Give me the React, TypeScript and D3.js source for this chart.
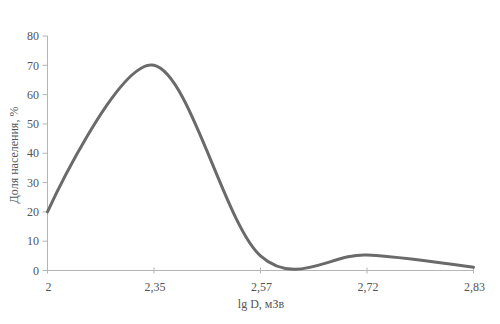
import React from "react";
import * as d3 from "d3";

const categories = ["2", "2,35", "2,57", "2,72", "2,83"];
const shareValues = [20, 70, 5, 5.3, 1.1];
const yTicks = [0, 10, 20, 30, 40, 50, 60, 70, 80];
const yTitle = "Доля населения, %";
const xTitle = "lg D, мЗв";

export default function App() {
  const W = 500, H = 324;
  const x = d3.scaleLinear().domain([0, categories.length - 1]).range([47.5, 473.5]);
  const y = d3.scaleLinear().domain([0, 80]).range([270.5, 36]);
  const line = d3
    .line<number>()
    .x((_, i) => x(i))
    .y((d) => y(d))
    .curve(d3.curveCardinal.tension(0));
  const font = "'Liberation Serif', 'Times New Roman', serif";
  const axisColor = "#b5b5b5";
  const textColor = "#555";
  return (
    <svg width={W} height={H} style={{ position: "absolute", left: 0, top: 0, background: "#fff" }}>
      <rect width={W} height={H} fill="#fff" />
      {/* y axis */}
      <line x1={x(0)} x2={x(0)} y1={y(80)} y2={y(0)} stroke={axisColor} strokeWidth={1} />
      {yTicks.map((t) => (
        <g key={t}>
          <line x1={x(0) - 5} x2={x(0)} y1={y(t)} y2={y(t)} stroke={axisColor} strokeWidth={1} />
          <text x={39} y={y(t)} dy="0.35em" textAnchor="end" fontFamily={font} fontSize={12} fill={textColor}>
            {t}
          </text>
        </g>
      ))}
      {/* x axis */}
      <line x1={x(0)} x2={x(categories.length - 1)} y1={y(0)} y2={y(0)} stroke={axisColor} strokeWidth={1} />
      {categories.map((c, i) => (
        <g key={c}>
          <line x1={x(i)} x2={x(i)} y1={y(0) - 3} y2={y(0) + 3} stroke={axisColor} strokeWidth={1} />
          <text x={x(i) + 1} y={287} dy="0.35em" textAnchor="middle" fontFamily={font} fontSize={12} fill={textColor}>
            {c}
          </text>
        </g>
      ))}
      <path d={line(shareValues) || ""} fill="none" stroke="#6a6a6a" strokeWidth={3} strokeLinecap="round" />
      <text x={261} y={304} dy="0.35em" textAnchor="middle" fontFamily={font} fontSize={12} fill={textColor}>
        {xTitle}
      </text>
      <text
        transform={`translate(14,155) rotate(-90)`}
        dy="0.35em"
        textAnchor="middle"
        fontFamily={font}
        fontSize={12}
        fill={textColor}
      >
        {yTitle}
      </text>
    </svg>
  );
}
